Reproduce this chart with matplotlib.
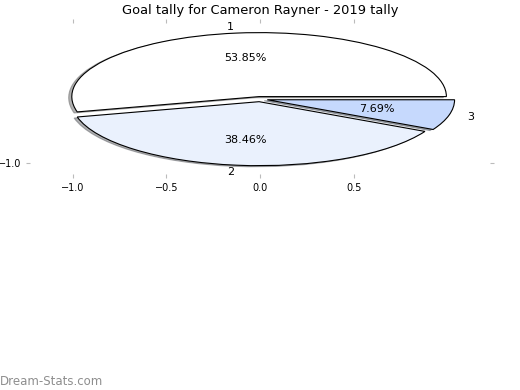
import matplotlib
matplotlib.use("Agg")
import matplotlib.pyplot as plt

# goal tally per round group
labels = ["1", "2", "3"]
goals = [7, 5, 1]
colors = ["#ffffff", "#eaf1fd", "#c6d9fd"]
explode = [0.04, 0.04, 0.04]
title = "Goal tally for Cameron Rayner - 2019 tally"

fig = plt.figure(figsize=(5.2, 3.9), dpi=100)
ax = fig.add_axes([30 / 520, 1 - 174 / 390, 460 / 520, 151 / 390])

ax.pie(goals, labels=labels, colors=colors, explode=explode,
       shadow={"ox": -0.012, "oy": -0.012, "shade": 0.6},
       autopct="%1.2f%%", textprops={"fontsize": 8},
       wedgeprops={"edgecolor": "black", "linewidth": 0.8})
ax.set_aspect("auto")
ax.set_xlim(-1.228, 1.228)
ax.set_ylim(-1.17, 1.19)

for s in ax.spines.values():
    s.set_visible(False)
ax.set_xticks([-1.0, -0.5, 0.0, 0.5])
ax.set_yticks([-1.0])
ax.set_yticklabels(["\u22121.0"])
ax.tick_params(axis="both", which="both", color="#bbbbbb", labelsize=7,
               length=3, top=True, right=True)
ax.set_title(title, fontsize=9.4, pad=6.5)

fig.text(0.0, 0.012, "Dream-Stats.com", color="#8e8e8e", fontsize=8.5)

fig.savefig("out.png", dpi=100)
